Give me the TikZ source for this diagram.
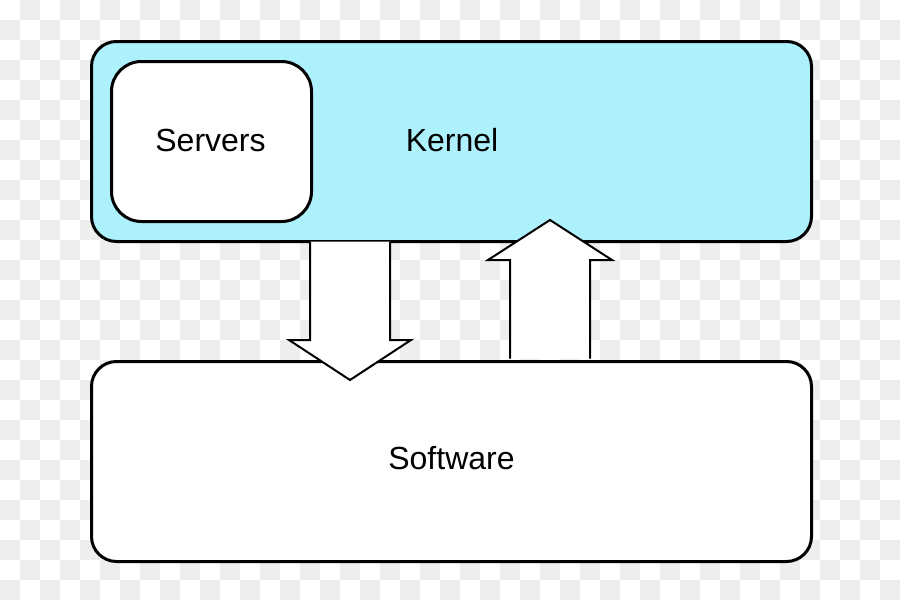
\documentclass[tikz,border=0pt]{standalone}
\usepackage{fontspec}
\setmainfont{Liberation Sans}
\definecolor{kernelcyan}{RGB}{173,241,253}
\definecolor{checker}{RGB}{238,238,238}
\begin{document}
\begin{tikzpicture}[x=1pt,y=-1pt,
  box/.style={draw, line width=3pt, inner sep=0pt},
  blockarrow/.style={draw, fill=white, line width=2pt, line join=miter},
  lbl/.style={font=\fontsize{32}{37}\selectfont, inner sep=0pt}]
\useasboundingbox (0,0) rectangle (900,600);
\fill[white] (0,0) rectangle (900,600);
\foreach \i in {0,...,44}{
  \foreach \j in {0,...,29}{
    \pgfmathtruncatemacro\chkodd{mod(\i+\j,2)}
    \ifnum\chkodd=1 \fill[checker] (\i*20,\j*20) rectangle ++(20,20); \fi
  }
}
% Kernel box
\node[box, fill=kernelcyan, rounded corners=25pt, minimum width=720pt, minimum height=200pt, anchor=north west] (kernel) at (90,40) {};
\node[lbl] (kerneltext) at (452,140) {Kernel};
% Servers box
\node[box, fill=white, rounded corners=30pt, minimum width=200pt, minimum height=160pt, anchor=north west] (servers) at (110,60) {};
\node[lbl] (serverstext) at (210.5,140) {Servers};
% Software box
\node[box, fill=white, rounded corners=25pt, minimum width=720pt, minimum height=200pt, anchor=north west] (software) at (90,360) {};
\node[lbl] (softwaretext) at (451.5,458) {Software};
% Down arrow (kernel -> software)
\draw[blockarrow] (310,241.5) -- (310,340) -- (289,340) -- (350,380) -- (411,340) -- (390,340) -- (390,241.5);
% Up arrow (software -> kernel)
\draw[blockarrow] (510,358.5) -- (510,260) -- (488,260) -- (550,220) -- (612,260) -- (590,260) -- (590,358.5);
\end{tikzpicture}
\end{document}
